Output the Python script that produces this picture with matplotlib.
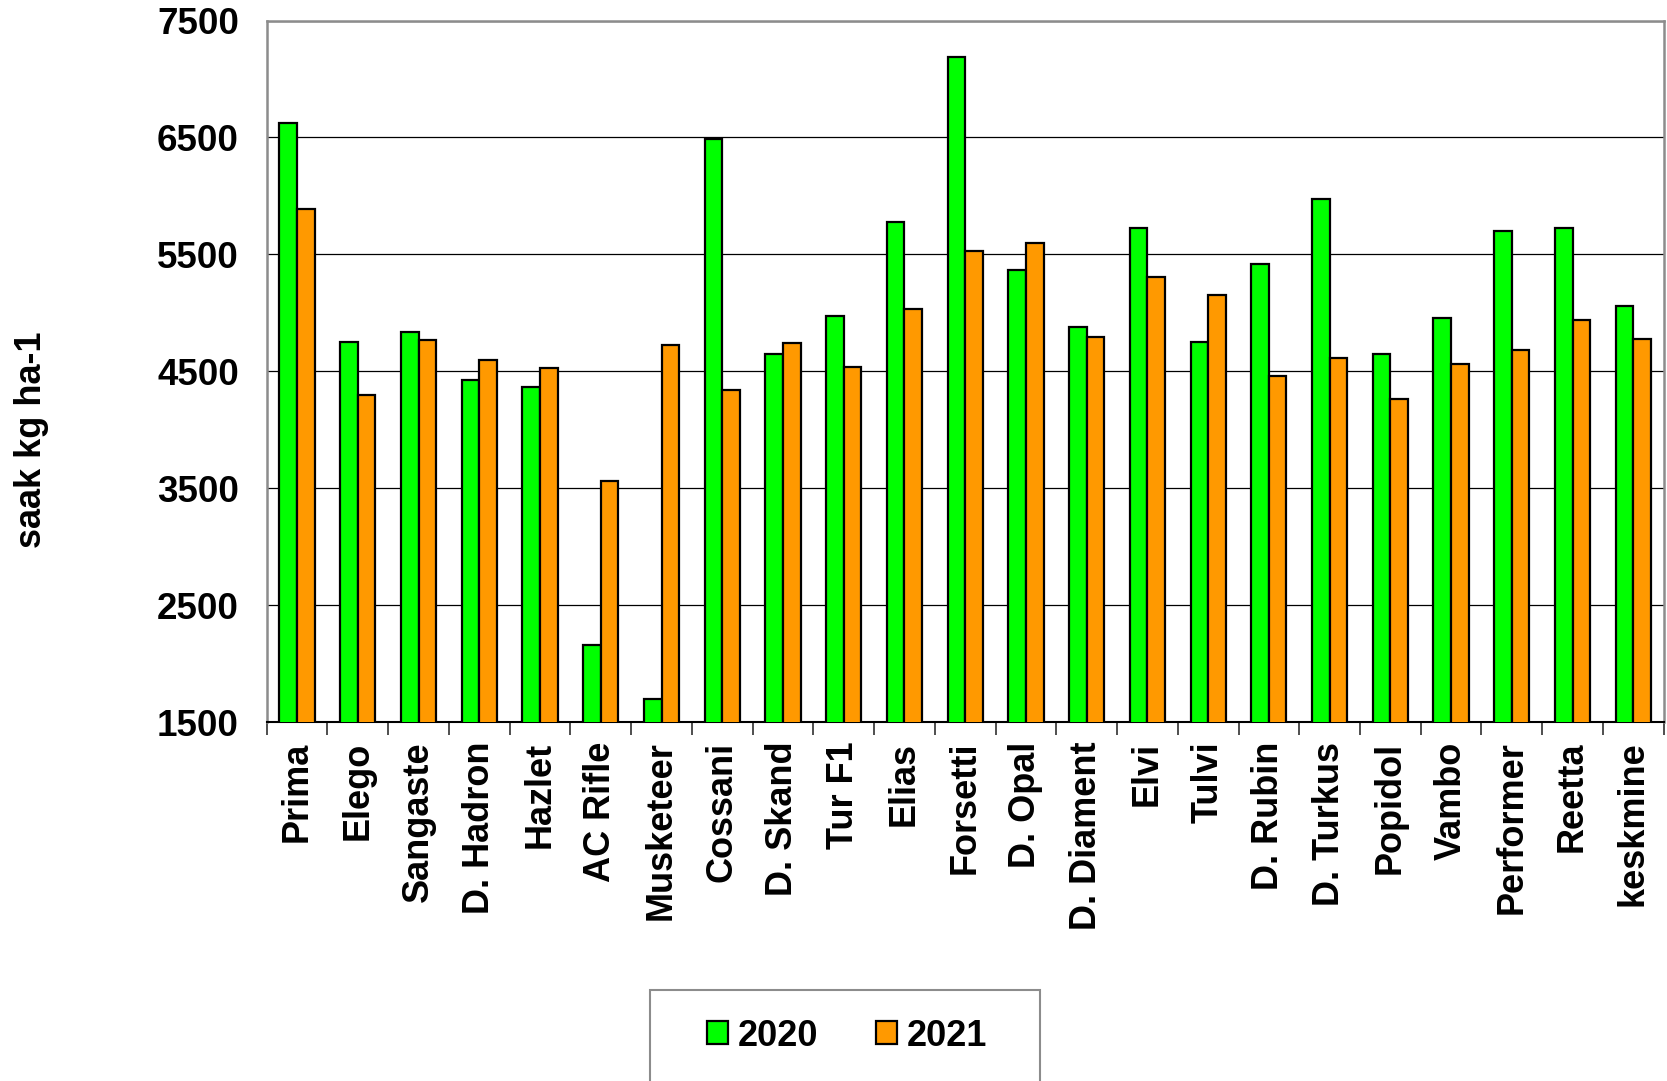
import numpy as np
import matplotlib
matplotlib.use("Agg")
import matplotlib.pyplot as plt
from matplotlib.patches import Rectangle
from matplotlib.ticker import FixedLocator

plt.rcParams["font.family"] = ["Liberation Sans", "DejaVu Sans"]
plt.rcParams["font.weight"] = "bold"

# ──────────────────────────────────────────────
# Data
# ──────────────────────────────────────────────
varieties = ["Prima", "Elego", "Sangaste", "D. Hadron", "Hazlet", "AC Rifle",
             "Musketeer", "Cossani", "D. Skand", "Tur F1", "Elias", "Forsetti",
             "D. Opal", "D. Diament", "Elvi", "Tulvi", "D. Rubin", "D. Turkus",
             "Popidol", "Vambo", "Performer", "Reetta", "keskmine"]
yield_2020 = [6625, 4750, 4840, 4425, 4370, 2160, 1695, 6485, 4650, 4970, 5780,
              7190, 5370, 4880, 5725, 4755, 5420, 5970, 4650, 4960, 5700, 5725, 5055]
yield_2021 = [5885, 4295, 4765, 4600, 4530, 3560, 4725, 4340, 4745, 4540, 5030,
              5530, 5600, 4790, 5310, 5155, 4460, 4610, 4260, 4560, 4680, 4935, 4775]
years = ["2020", "2021"]
y_ticks = [1500, 2500, 3500, 4500, 5500, 6500, 7500]

# ──────────────────────────────────────────────
# Plot
# ──────────────────────────────────────────────
fig = plt.figure(figsize=(16.67, 10.81), dpi=100)
ax = fig.add_axes([0.160, 0.332, 0.838, 0.649])

x = np.arange(len(varieties))
w = 0.29
ax.bar(x - w / 2, yield_2020, width=w, color="#00FF00", edgecolor="black",
       linewidth=1.6, label=years[0], zorder=3)
ax.bar(x + w / 2, yield_2021, width=w, color="#FF9900", edgecolor="black",
       linewidth=1.6, label=years[1], zorder=3)

ax.set_xlim(-0.5, len(varieties) - 0.5)
ax.set_ylim(1500, 7500)
ax.set_yticks(y_ticks)
ax.yaxis.grid(True, color="black", linewidth=0.9, zorder=0)
ax.tick_params(axis="y", length=0, pad=20, labelsize=26.5)

ax.set_xticks(x)
ax.set_xticklabels(varieties, rotation=90, fontsize=26)
ax.tick_params(axis="x", which="major", length=0, pad=14)
ax.xaxis.set_minor_locator(FixedLocator(np.arange(-0.5, len(varieties), 1.0)))
ax.tick_params(axis="x", which="minor", length=9, width=1.2, color="#303030",
               direction="out")

for side in ["left", "top", "right"]:
    ax.spines[side].set_color("#8c8c8c")
    ax.spines[side].set_linewidth(1.8)
ax.spines["bottom"].set_color("black")
ax.spines["bottom"].set_linewidth(1.5)

fig.text(0.019, 0.593, "saak kg ha-1", rotation=90, ha="center", va="center",
         fontsize=26, fontweight="bold")

# legend: entries without frame, frame drawn as a separate box (runs off the bottom)
fig.legend(loc="center", bbox_to_anchor=(0.508, 0.0415), ncol=2,
           fontsize=26, frameon=False, borderpad=0.3,
           handlelength=0.6, handleheight=0.6, handletextpad=0.25,
           columnspacing=1.6)
fig.patches.append(Rectangle((0.39, -0.05), 0.234, 0.134, transform=fig.transFigure,
                             facecolor="none", edgecolor="#8c8c8c", linewidth=1.5))

fig.savefig("out.png", dpi=100)
